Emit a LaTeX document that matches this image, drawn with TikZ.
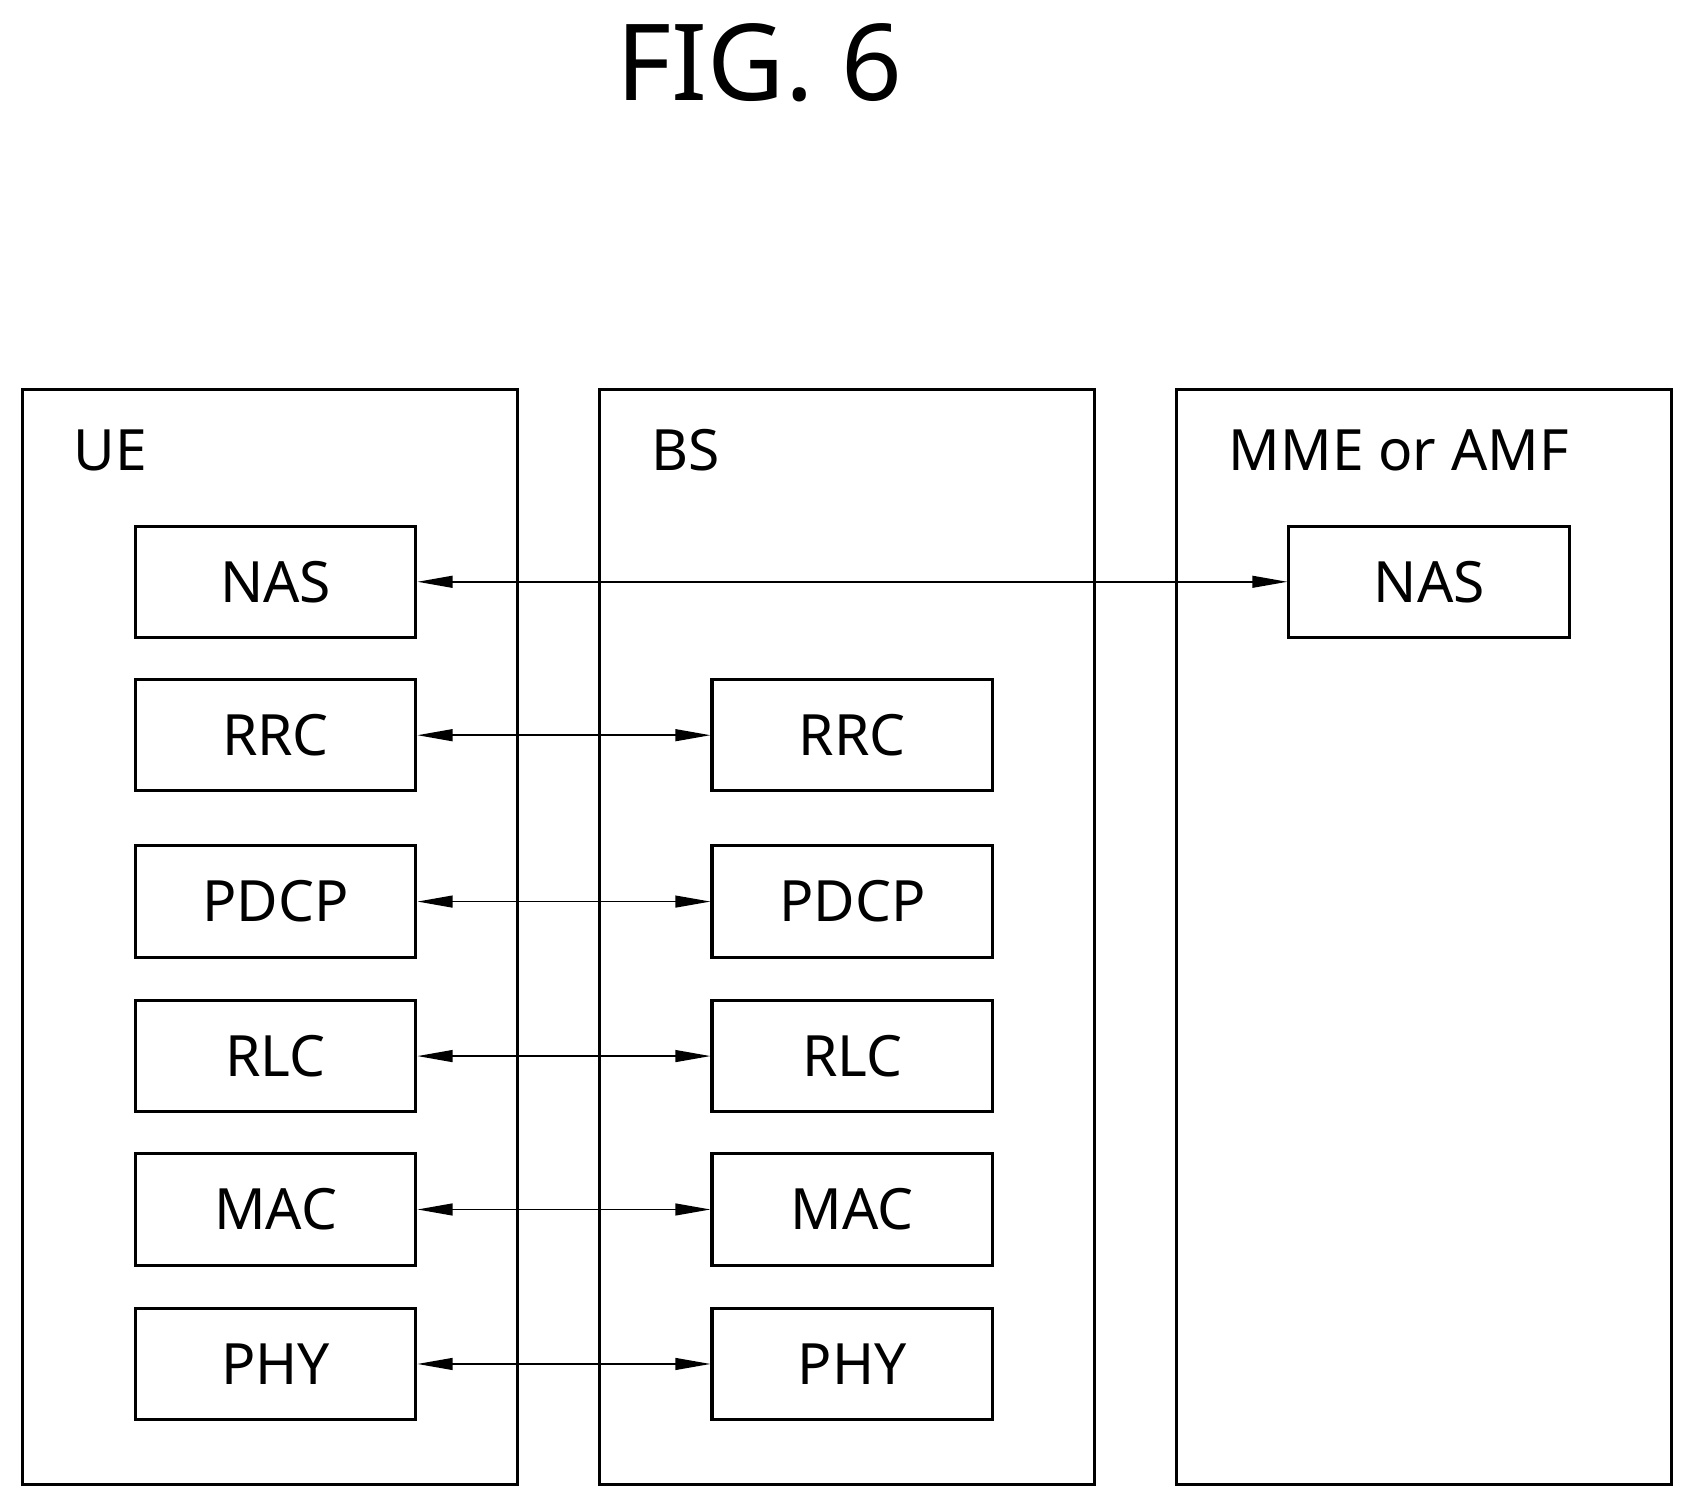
\documentclass[tikz,border=0pt]{standalone}
\usepackage{fontspec}
\setmainfont{Noto Sans}
\usetikzlibrary{arrows.meta, positioning}
\tikzset{
    entity box/.style = {rectangle, draw, line width=1.6pt, minimum width=9.16cm, minimum height=20.28cm, inner sep=0pt},
    layer box/.style = {rectangle, draw, line width=1.6pt, minimum width=5.2cm, minimum height=2.06cm, inner sep=0pt, font=\fontsize{30}{36}\selectfont},
    entity title/.style = {anchor=west, inner sep=0pt, font=\fontsize{30}{36}\selectfont},
    peer link/.style = {line width=0.8pt, {Stealth[length=0.65cm,width=0.22cm,inset=0pt]}-{Stealth[length=0.65cm,width=0.22cm,inset=0pt]}}
}
\begin{document}
\begin{tikzpicture}[x=0.02cm, y=-0.02cm]
        \useasboundingbox (0,0) rectangle (1568,1394);
        \node[font=\fontsize{56}{64}\selectfont] (title) at (703,58) {FIG. 6};

        % entities
        \node[entity box] (ue) at (250,867) {};
        \node[entity box] (bs) at (784,867) {};
        \node[entity box] (mme) at (1318,867) {};
        \node[entity title] (uetitle) at (68,417) {UE};
        \node[entity title] (bstitle) at (603,417) {BS};
        \node[entity title] (mmetitle) at (1137,417) {MME or AMF};

        % UE stack
        \node[layer box] (uenas) at (255,538.5) {NAS};
        \node[layer box] (uerrc) at (255,680.5) {RRC};
        \node[layer box] (uepdcp) at (255,834.5) {PDCP};
        \node[layer box] (uerlc) at (255,977.5) {RLC};
        \node[layer box] (uemac) at (255,1119.5) {MAC};
        \node[layer box] (uephy) at (255,1262.5) {PHY};

        % BS stack
        \node[layer box] (bsrrc) at (789,680.5) {RRC};
        \node[layer box] (bspdcp) at (789,834.5) {PDCP};
        \node[layer box] (bsrlc) at (789,977.5) {RLC};
        \node[layer box] (bsmac) at (789,1119.5) {MAC};
        \node[layer box] (bsphy) at (789,1262.5) {PHY};

        % MME stack
        \node[layer box] (mmenas) at (1323,538.5) {NAS};

        \draw[peer link] (uenas) -- (mmenas);
        \draw[peer link] (uerrc) -- (bsrrc);
        \draw[peer link] (uepdcp) -- (bspdcp);
        \draw[peer link] (uerlc) -- (bsrlc);
        \draw[peer link] (uemac) -- (bsmac);
        \draw[peer link] (uephy) -- (bsphy);
\end{tikzpicture}
\end{document}
